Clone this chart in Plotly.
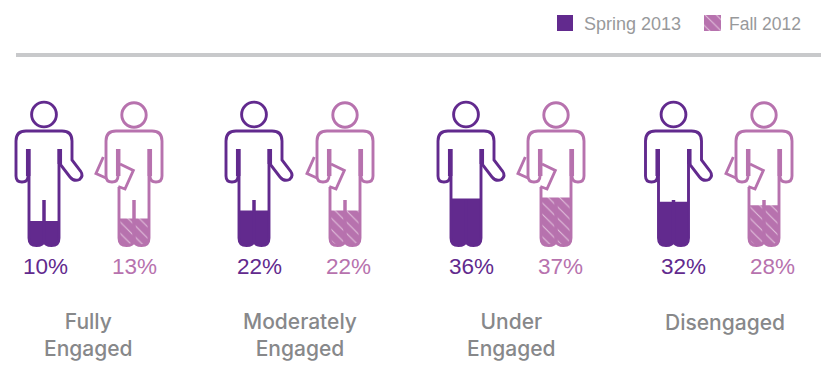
import plotly.graph_objects as go

# Survey shares by engagement level, one pair of figures per category
categories = ["Fully<br>Engaged", "Moderately<br>Engaged", "Under<br>Engaged", "Disengaged"]
spring_2013 = [10, 22, 36, 32]
fall_2012 = [13, 22, 37, 28]
series_names = ["Spring 2013", "Fall 2012"]

WIDTH, HEIGHT = 821, 386
PURPLE = "#622a8e"
ORCHID = "#b772ae"
GREY = "#98999b"
TITLE_GREY = "#87888a"
SANS = "Liberation Sans"

# Figure centres and label centres across the page
spring_x = [44, 254, 466, 673.5]
fall_x = [134, 345, 556, 764]
spring_label_x = [45, 259, 471, 683]
fall_label_x = [134, 348, 560, 772]
title_x = [88, 300, 511, 725]

# Vertical scale: percentage fill level, 0.87 px per point above a 229.7 px zero line
ZERO_PX, PX_PER_POINT = 229.7, 0.87


def val(py):
    """Screen row to value on the y axis."""
    return (ZERO_PX - py) / PX_PER_POINT


def body_path(cx, cmds):
    out = []
    for c in cmds:
        op, nums = c[0], c[1:]
        parts = []
        for i in range(0, len(nums), 2):
            parts.append(f"{cx + nums[i]:.2f},{val(nums[i + 1]):.3f}")
        out.append(op + " ".join(parts))
    return " ".join(out)


LEG_BOTTOM = 245.6
LEGS = [("M", -15, 149), ("L", -15, 238),
        ("Q", -15, LEG_BOTTOM, -7.5, LEG_BOTTOM), ("Q", -1, LEG_BOTTOM, 0, 241),
        ("Q", 1, LEG_BOTTOM, 7.5, LEG_BOTTOM), ("Q", 15, LEG_BOTTOM, 15, 238),
        ("L", 15, 149)]
STUB = [("M", 0, 200), ("L", 0, 241)]

SPRING_BODY = [("M", -16, 149), ("L", -16, 176), ("Q", -16, 182, -22, 182),
               ("Q", -28, 182, -28, 176), ("L", -28, 141), ("Q", -28, 131, -18, 131),
               ("L", 18, 131), ("Q", 28, 131, 28, 141), ("L", 28, 160), ("L", 36.5, 171),
               ("Q", 40, 176, 35.5, 179.5), ("Q", 30, 182, 26, 177), ("L", 16, 164),
               ("L", 16, 149)]
SPRING_THICK = [("M", -15.8, 149), ("L", -15.8, 176), ("M", 15.8, 149), ("L", 15.8, 164)]

FALL_BODY = [("M", -16, 149), ("L", -16, 176), ("Q", -16, 182, -22, 182),
             ("Q", -28, 182, -28, 176), ("L", -28, 141), ("Q", -28, 131, -18, 131),
             ("L", 18, 131), ("Q", 28, 131, 28, 141), ("L", 28, 176),
             ("Q", 28, 182, 22, 182), ("Q", 16, 182, 16, 176), ("L", 16, 149)]
FALL_THICK = [("M", -15.8, 149), ("L", -15.8, 176), ("M", 15.8, 149), ("L", 15.8, 176)]
FALL_LEGS = [("M", -15, 187), ("L", -15, 238)] + LEGS[2:-1] + [("L", 15, 149)]
FALL_CARDS = [("M", -30.7, 157), ("L", -38, 173.5), ("L", -28, 178),
              ("M", -14, 164), ("L", -0.7, 170.5), ("L", -9, 189), ("L", -15.7, 186.5)]

OUTLINE = 2.9
shapes = []


def stroke(cx, cmds, color, width):
    shapes.append(dict(type="path", xref="x", yref="y", path=body_path(cx, cmds),
                       line=dict(color=color, width=width), layer="above"))


def head(cx, cy, r, color):
    shapes.append(dict(type="circle", xref="x", yref="y", x0=cx - r, x1=cx + r,
                       y0=val(cy + r), y1=val(cy - r),
                       line=dict(color=color, width=OUTLINE), layer="above"))


def leg_outline(value):
    """Closed outline of both legs, cut off at the level of the given value."""
    xs, ys = [-15, 15, 15], [value, value, val(238)]
    for t in range(1, 9):
        u = t / 8
        xs.append((1 - u) ** 2 * 15 + 2 * u * (1 - u) * 15 + u ** 2 * 7.5)
        ys.append(val((1 - u) ** 2 * 238 + 2 * u * (1 - u) * LEG_BOTTOM + u ** 2 * LEG_BOTTOM))
    for t in range(1, 9):
        u = t / 8
        xs.append(7.5 * (1 - u) ** 2)
        ys.append(val((1 - u) ** 2 * LEG_BOTTOM + 2 * u * (1 - u) * LEG_BOTTOM + u ** 2 * 241))
    xs2 = [-x for x in reversed(xs[3:-1])]
    ys2 = list(reversed(ys[3:-1]))
    return xs + xs2 + [-15], ys + ys2 + [value]


HATCH = dict(shape="\\", size=8, solidity=0.13, fgcolor="#e3c3de", bgcolor=ORCHID,
             fillmode="replace")

fig = go.Figure()

for cx, value in zip(spring_x, spring_2013):
    xs, ys = leg_outline(value)
    fig.add_trace(go.Scatter(x=[cx + x for x in xs], y=ys, mode="lines", fill="toself",
                             fillcolor=PURPLE, line=dict(color=PURPLE, width=0),
                             hoverinfo="skip", showlegend=False))
    head(cx, 114.5, 12.4, PURPLE)
    stroke(cx, SPRING_BODY, PURPLE, OUTLINE)
    stroke(cx, SPRING_THICK, PURPLE, 4.5)
    stroke(cx, LEGS, PURPLE, OUTLINE)
    stroke(cx, STUB, PURPLE, 3.5)

for cx, value in zip(fall_x, fall_2012):
    xs, ys = leg_outline(value)
    fig.add_trace(go.Scatter(x=[cx + x for x in xs], y=ys, mode="lines", fill="toself",
                             fillcolor=ORCHID, fillpattern=HATCH,
                             line=dict(color=ORCHID, width=0),
                             hoverinfo="skip", showlegend=False))
    head(cx, 115, 12.2, ORCHID)
    stroke(cx, FALL_BODY, ORCHID, OUTLINE)
    stroke(cx, FALL_THICK, ORCHID, 4.5)
    stroke(cx, FALL_LEGS, ORCHID, OUTLINE)
    stroke(cx, STUB, ORCHID, 3.5)
    stroke(cx, FALL_CARDS, ORCHID, OUTLINE)

# Legend keys
fig.add_trace(go.Scatter(x=[557, 573, 573, 557, 557],
                         y=[val(15), val(15), val(31), val(31), val(15)],
                         mode="lines", fill="toself", fillcolor=PURPLE,
                         line=dict(width=0, color=PURPLE), hoverinfo="skip", showlegend=False))
fig.add_trace(go.Scatter(x=[704, 721, 721, 704, 704],
                         y=[val(15), val(15), val(31), val(31), val(15)],
                         mode="lines", fill="toself", fillcolor=ORCHID, fillpattern=HATCH,
                         line=dict(width=0, color=ORCHID), hoverinfo="skip", showlegend=False))

# Divider under the legend
shapes.append(dict(type="line", xref="x", yref="y", x0=16, x1=821, y0=val(55), y1=val(55),
                   line=dict(color="#c8c9cb", width=4)))

annotations = []


def label(x, row, text, size, color, anchor="center", family=SANS, weight=None):
    font = dict(family=family, size=size, color=color)
    if weight:
        font["weight"] = weight
    annotations.append(dict(x=x, y=val(row), xref="x", yref="y", text=text, showarrow=False,
                            xanchor=anchor, yanchor="middle", font=font))


label(582, 24, series_names[0], 18, GREY, "left")
label(727, 24, series_names[1], 17.5, GREY, "left")

for x, v in zip(spring_label_x, spring_2013):
    label(x, 266, f"{v}%", 22.5, PURPLE)
for x, v in zip(fall_label_x, fall_2012):
    label(x, 266, f"{v}%", 22.5, ORCHID)
for x, name in zip(title_x, categories):
    row = 322 if "<br>" not in name else 334.5
    label(x, row, name, 21, TITLE_GREY, family="Inter", weight=500)

fig.update_layout(
    width=WIDTH, height=HEIGHT, margin=dict(l=0, r=0, t=0, b=0),
    paper_bgcolor="white", plot_bgcolor="white", showlegend=False,
    xaxis=dict(range=[0, WIDTH], visible=False, fixedrange=True),
    yaxis=dict(range=[val(HEIGHT), val(0)], visible=False, fixedrange=True),
    shapes=shapes, annotations=annotations,
)
fig.write_html("out.html", config=dict(displayModeBar=False))
